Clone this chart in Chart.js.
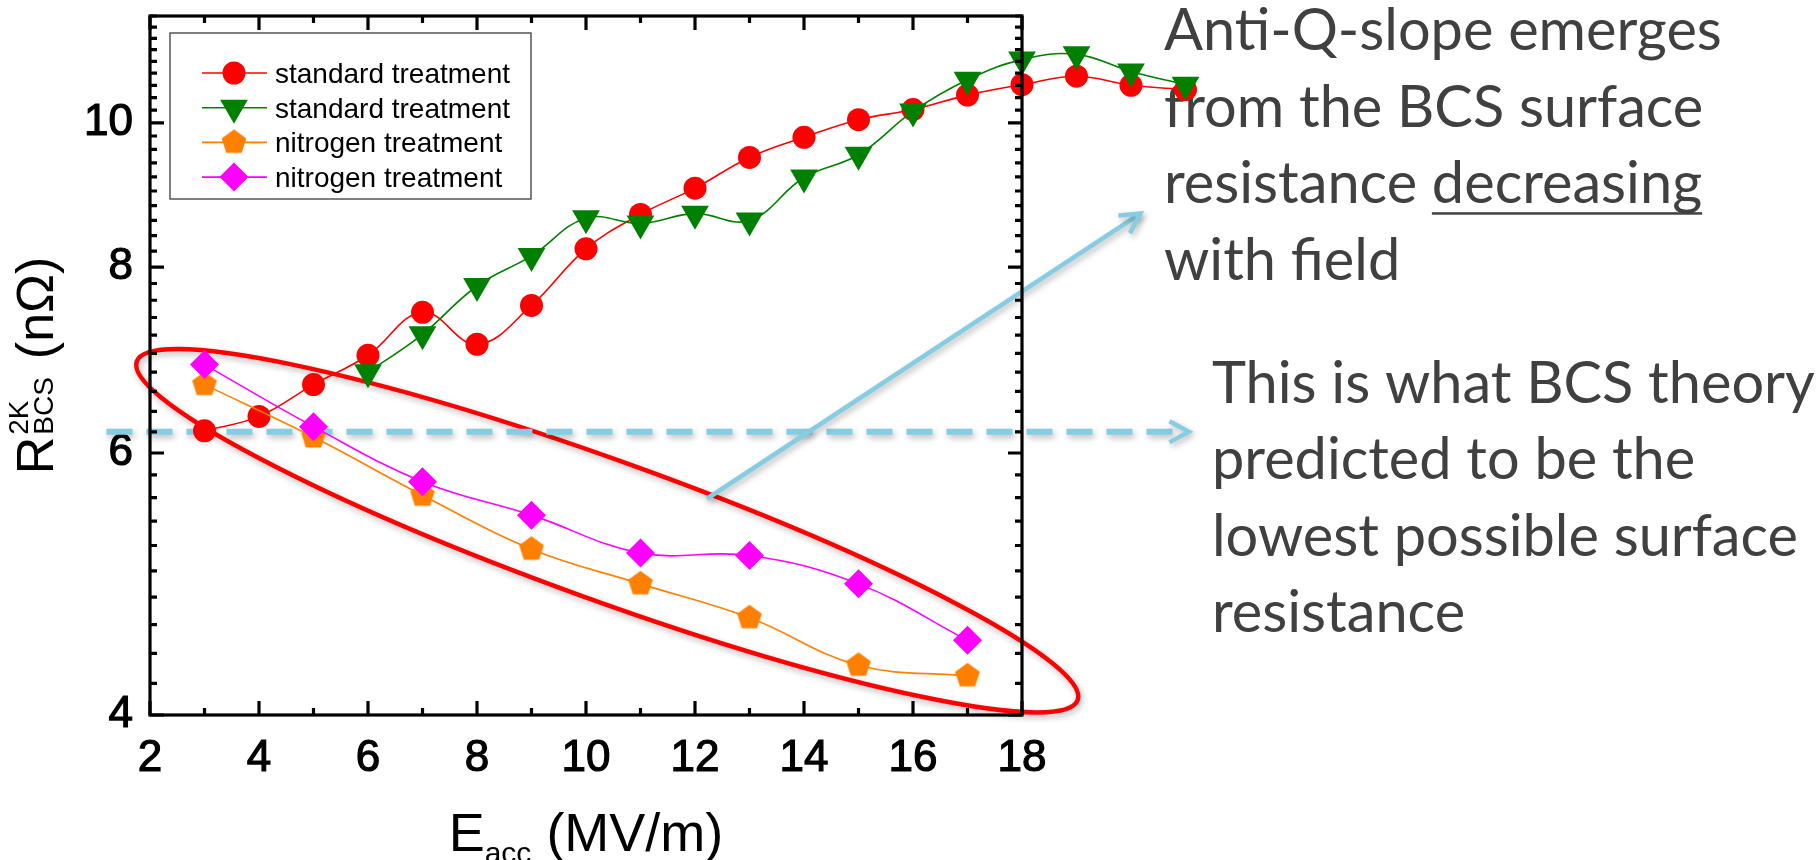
<!DOCTYPE html>
<html>
<head>
<meta charset="utf-8">
<title>BCS surface resistance vs field</title>
<script src="https://cdn.jsdelivr.net/npm/chart.js@4.4.1/dist/chart.umd.min.js"></script>
<style>
    html, body { margin: 0; padding: 0; background: #fff; }
    #wrap { width: 1818px; height: 860px; }
</style>
</head>
<body>
<div id="wrap"><canvas id="rbcsChart" width="1818" height="860"></canvas></div>
<script>
// DATA
const fieldStd1 = [3, 4, 5, 6, 7, 8, 9, 10, 11, 12, 13, 14, 15, 16, 17, 18, 19, 20, 21];
const rbcsStd1 = [6.21, 6.35, 6.67, 6.98, 7.46, 7.10, 7.54, 8.23, 8.68, 9.04, 9.48, 9.78, 10.05, 10.21, 10.44, 10.61, 10.75, 10.60, 10.53];
const fieldStd2 = [6, 7, 8, 9, 10, 11, 12, 13, 14, 15, 16, 17, 18, 19, 20, 21];
const rbcsStd2 = [6.80, 7.21, 7.77, 8.14, 8.63, 8.56, 8.69, 8.60, 9.19, 9.52, 10.18, 10.69, 11.03, 11.12, 10.83, 10.61];
const fieldN = [3, 5, 7, 9, 11, 13, 15, 17];
const rbcsN1 = [6.67, 6.15, 5.62, 5.17, 4.90, 4.65, 4.32, 4.25];
const rbcsN2 = [6.88, 6.25, 5.74, 5.45, 5.14, 5.12, 4.90, 4.49];
const seriesLabels = ["standard treatment", "standard treatment", "nitrogen treatment", "nitrogen treatment"];

const xTickValues = [2, 4, 6, 8, 10, 12, 14, 16, 18];
const yTickValues = [4, 6, 8, 10];
const xAxisEnd = 18;
const yMin = 4, yMax = 11.8, yMinorStep = 0.2;

const bcsLimit = 6.2;
const noteTop = ["Anti-Q-slope emerges", "from the BCS surface", "resistance ", "with field"];
const noteUnderlined = "decreasing";
const noteBottom = ["This is what BCS theory", "predicted to be the", "lowest possible surface", "resistance"];

const FONT = '"Liberation Sans", Arial, sans-serif';
const NOTE_FONT = 'Lato, "Open Sans", sans-serif';
const SKY = '#86cde3';

function toPoints(xs, ys) {
    return xs.map((x, i) => ({ x: x, y: ys[i] }));
}

// pentagon marker (Chart.js has no built-in one)
function pentagon(r, color) {
    const c = document.createElement('canvas');
    const s = Math.ceil(r * 2 + 2);
    c.width = s; c.height = s;
    const g = c.getContext('2d');
    g.fillStyle = color;
    g.beginPath();
    for (let i = 0; i < 5; i++) {
        const a = -Math.PI / 2 + i * 2 * Math.PI / 5;
        const px = s / 2 + r * Math.cos(a), py = s / 2 + r * Math.sin(a);
        if (i) g.lineTo(px, py); else g.moveTo(px, py);
    }
    g.closePath();
    g.fill();
    return c;
}

function arrowHead(ctx, x0, y0, x1, y1, len, spread) {
    const a = Math.atan2(y1 - y0, x1 - x0);
    ctx.beginPath();
    ctx.moveTo(x1 - len * Math.cos(a - spread), y1 - len * Math.sin(a - spread));
    ctx.lineTo(x1, y1);
    ctx.lineTo(x1 - len * Math.cos(a + spread), y1 - len * Math.sin(a + spread));
    ctx.stroke();
}

// ellipse, arrows and notes, under the data
const annotations = {
    id: 'annotations',
    beforeDatasetsDraw(chart) {
        const { ctx, scales: { x, y } } = chart;
        ctx.save();
        ctx.shadowColor = 'rgba(0,0,0,0.28)';
        ctx.shadowBlur = 6;
        ctx.shadowOffsetX = 2;
        ctx.shadowOffsetY = 3;

        // ellipse round the nitrogen data
        ctx.strokeStyle = '#ff0000';
        ctx.lineWidth = 4.5;
        ctx.beginPath();
        ctx.ellipse(x.getPixelForValue(10.39), y.getPixelForValue(5.32), 500, 70, 19.8 * Math.PI / 180, 0, 2 * Math.PI);
        ctx.stroke();

        // dashed line at the BCS prediction
        const yb = y.getPixelForValue(bcsLimit);
        const xd0 = x.getPixelForValue(1.2), xd1 = x.getPixelForValue(21.06);
        ctx.strokeStyle = SKY;
        ctx.lineWidth = 6;
        ctx.setLineDash([26, 14]);
        ctx.beginPath();
        ctx.moveTo(xd0, yb);
        ctx.lineTo(xd1 - 4, yb);
        ctx.stroke();
        ctx.setLineDash([]);
        ctx.lineWidth = 4.5;
        arrowHead(ctx, xd0, yb, xd1, yb, 22, 0.5);

        // solid arrow to the top note
        const ax0 = x.getPixelForValue(12.22), ay0 = y.getPixelForValue(5.59);
        const ax1 = x.getPixelForValue(20.17), ay1 = y.getPixelForValue(8.69);
        ctx.lineWidth = 4.5;
        ctx.beginPath();
        ctx.moveTo(ax0, ay0);
        ctx.lineTo(ax1, ay1);
        ctx.stroke();
        arrowHead(ctx, ax0, ay0, ax1, ay1, 22, 0.5);
        ctx.restore();

        // notes
        ctx.save();
        ctx.fillStyle = '#404040';
        ctx.font = '54px ' + NOTE_FONT;
        const size = 54 * 558 / ctx.measureText(noteTop[0]).width;
        ctx.font = size.toFixed(1) + 'px ' + NOTE_FONT;
        ctx.textBaseline = 'alphabetic';
        noteTop.forEach((t, i) => ctx.fillText(t, 1164, 50 + i * 76.6));
        const ux = 1164 + ctx.measureText(noteTop[2]).width;
        const uw = ctx.measureText(noteUnderlined).width;
        ctx.fillText(noteUnderlined, ux, 50 + 2 * 76.6);
        ctx.fillRect(ux, 50 + 2 * 76.6 + 9, uw, 2.5);
        noteBottom.forEach((t, i) => ctx.fillText(t, 1212, 403 + i * 76.3));
        ctx.restore();
    }
};

// frame with inward ticks, legend and axis titles
const frame = {
    id: 'frame',
    afterDatasetsDraw(chart) {
        const { ctx, chartArea: area, scales: { x, y } } = chart;
        const L = area.left, T = area.top, B = area.bottom, R = x.getPixelForValue(xAxisEnd);
        ctx.save();
        ctx.strokeStyle = '#000';
        ctx.lineWidth = 3.2;
        ctx.strokeRect(L, T, R - L, B - T);
        ctx.beginPath();
        for (let v = xTickValues[0]; v <= xAxisEnd; v++) {
            const len = xTickValues.includes(v) ? 14 : 7;
            const px = x.getPixelForValue(v);
            ctx.moveTo(px, B); ctx.lineTo(px, B - len);
            ctx.moveTo(px, T); ctx.lineTo(px, T + len);
        }
        const n = Math.round((yMax - yMin) / yMinorStep);
        for (let i = 0; i <= n; i++) {
            const v = yMin + i * yMinorStep;
            const major = yTickValues.some(t => Math.abs(t - v) < 1e-6);
            const len = major ? 14 : 7;
            const py = y.getPixelForValue(v);
            ctx.moveTo(L, py); ctx.lineTo(L + len, py);
            ctx.moveTo(R, py); ctx.lineTo(R - len, py);
        }
        ctx.stroke();

        // legend
        ctx.fillStyle = '#fff';
        ctx.fillRect(170, 33, 361, 166);
        ctx.strokeStyle = '#555';
        ctx.lineWidth = 1.5;
        ctx.strokeRect(170, 33, 361, 166);
        chart.data.datasets.forEach((ds, i) => {
            const ry = 73 + i * 34.7;
            ctx.strokeStyle = ds.borderColor;
            ctx.lineWidth = 1.6;
            ctx.beginPath();
            ctx.moveTo(202, ry); ctx.lineTo(267, ry);
            ctx.stroke();
            ctx.fillStyle = ds.backgroundColor;
            Chart.helpers.drawPoint(ctx, {
                pointStyle: ds.pointStyle, radius: ds.pointRadius,
                rotation: ds.pointRotation || 0, borderWidth: 0
            }, 234, ry);
            ctx.fillStyle = '#000';
            ctx.font = '28px ' + FONT;
            ctx.textBaseline = 'alphabetic';
            ctx.fillText(ds.label, 275, ry + 10);
        });

        // x title: E_acc (MV/m)
        ctx.fillStyle = '#000';
        ctx.textBaseline = 'alphabetic';
        const big = '54px ' + FONT, small = '30px ' + FONT;
        ctx.font = big;
        const wE = ctx.measureText('E').width, wU = ctx.measureText(' (MV/m)').width;
        ctx.font = small;
        const wS = ctx.measureText('acc').width;
        let tx = (L + R) / 2 - (wE + wS + wU) / 2;
        ctx.font = big; ctx.fillText('E', tx, 851);
        ctx.font = small; ctx.fillText('acc', tx + wE, 863);
        ctx.font = big; ctx.fillText(' (MV/m)', tx + wE + wS, 851);

        // y title: R^2K_BCS (nOhm), rotated
        ctx.font = '52px ' + FONT;
        const wR = ctx.measureText('R').width, wO = ctx.measureText('(nΩ)').width;
        ctx.font = '28px ' + FONT;
        const wB = Math.max(ctx.measureText('BCS').width, ctx.measureText('2K').width);
        const total = wR + 2 + wB + 18 + wO;
        ctx.translate(53, (T + B) / 2 + total / 2);
        ctx.rotate(-Math.PI / 2);
        ctx.font = '52px ' + FONT;
        ctx.fillText('R', 0, 0);
        ctx.fillText('(nΩ)', wR + 2 + wB + 18, 0);
        ctx.font = '28px ' + FONT;
        ctx.fillText('2K', wR + 2, -25);
        ctx.fillText('BCS', wR + 2, 0);
        ctx.restore();
    }
};

const lineStyle = { borderWidth: 1.6, pointBorderWidth: 0, tension: 0.4, clip: false };
const tickFont = { family: FONT, size: 44 };

new Chart(document.getElementById('rbcsChart'), {
    type: 'line',
    data: {
        datasets: [
            { ...lineStyle, label: seriesLabels[0], data: toPoints(fieldStd1, rbcsStd1), order: 4,
              borderColor: '#ff0000', backgroundColor: '#ff0000', pointStyle: 'circle', pointRadius: 11.5 },
            { ...lineStyle, label: seriesLabels[1], data: toPoints(fieldStd2, rbcsStd2), order: 3,
              borderColor: '#008000', backgroundColor: '#008000', pointStyle: 'triangle', pointRotation: 180, pointRadius: 16 },
            { ...lineStyle, label: seriesLabels[2], data: toPoints(fieldN, rbcsN1), order: 2,
              borderColor: '#ff8000', backgroundColor: '#ff8000', pointStyle: pentagon(13, '#ff8000'), pointRadius: 13 },
            { ...lineStyle, label: seriesLabels[3], data: toPoints(fieldN, rbcsN2), order: 1,
              borderColor: '#ff00ff', backgroundColor: '#ff00ff', pointStyle: 'rectRot', pointRadius: 14.5 }
        ]
    },
    options: {
        responsive: false,
        animation: false,
        devicePixelRatio: 1,
        layout: { padding: { left: 0, top: 15, right: 578, bottom: 0 } },
        elements: { line: { capBezierPoints: false } },
        plugins: { legend: { display: false }, tooltip: { enabled: false } },
        scales: {
            x: {
                type: 'linear', min: 2, max: 22,
                grid: { display: false, drawTicks: false },
                border: { display: false },
                afterBuildTicks: s => { s.ticks = xTickValues.map(v => ({ value: v })); },
                afterFit: s => { s.height = 145; s.paddingLeft = 0; s.paddingRight = 0; },
                ticks: { font: tickFont, color: '#000', textStrokeColor: '#000', textStrokeWidth: 1.2,
                         padding: 17, maxRotation: 0, autoSkip: false }
            },
            y: {
                type: 'logarithmic', min: yMin, max: yMax,
                grid: { display: false, drawTicks: false },
                border: { display: false },
                afterBuildTicks: s => { s.ticks = yTickValues.map(v => ({ value: v })); },
                afterFit: s => { s.width = 150; s.paddingTop = 0; s.paddingBottom = 0; },
                ticks: { font: tickFont, color: '#000', textStrokeColor: '#000', textStrokeWidth: 1.2,
                         padding: 17, callback: v => String(v) }
            }
        }
    },
    plugins: [annotations, frame]
});
</script>
</body>
</html>
